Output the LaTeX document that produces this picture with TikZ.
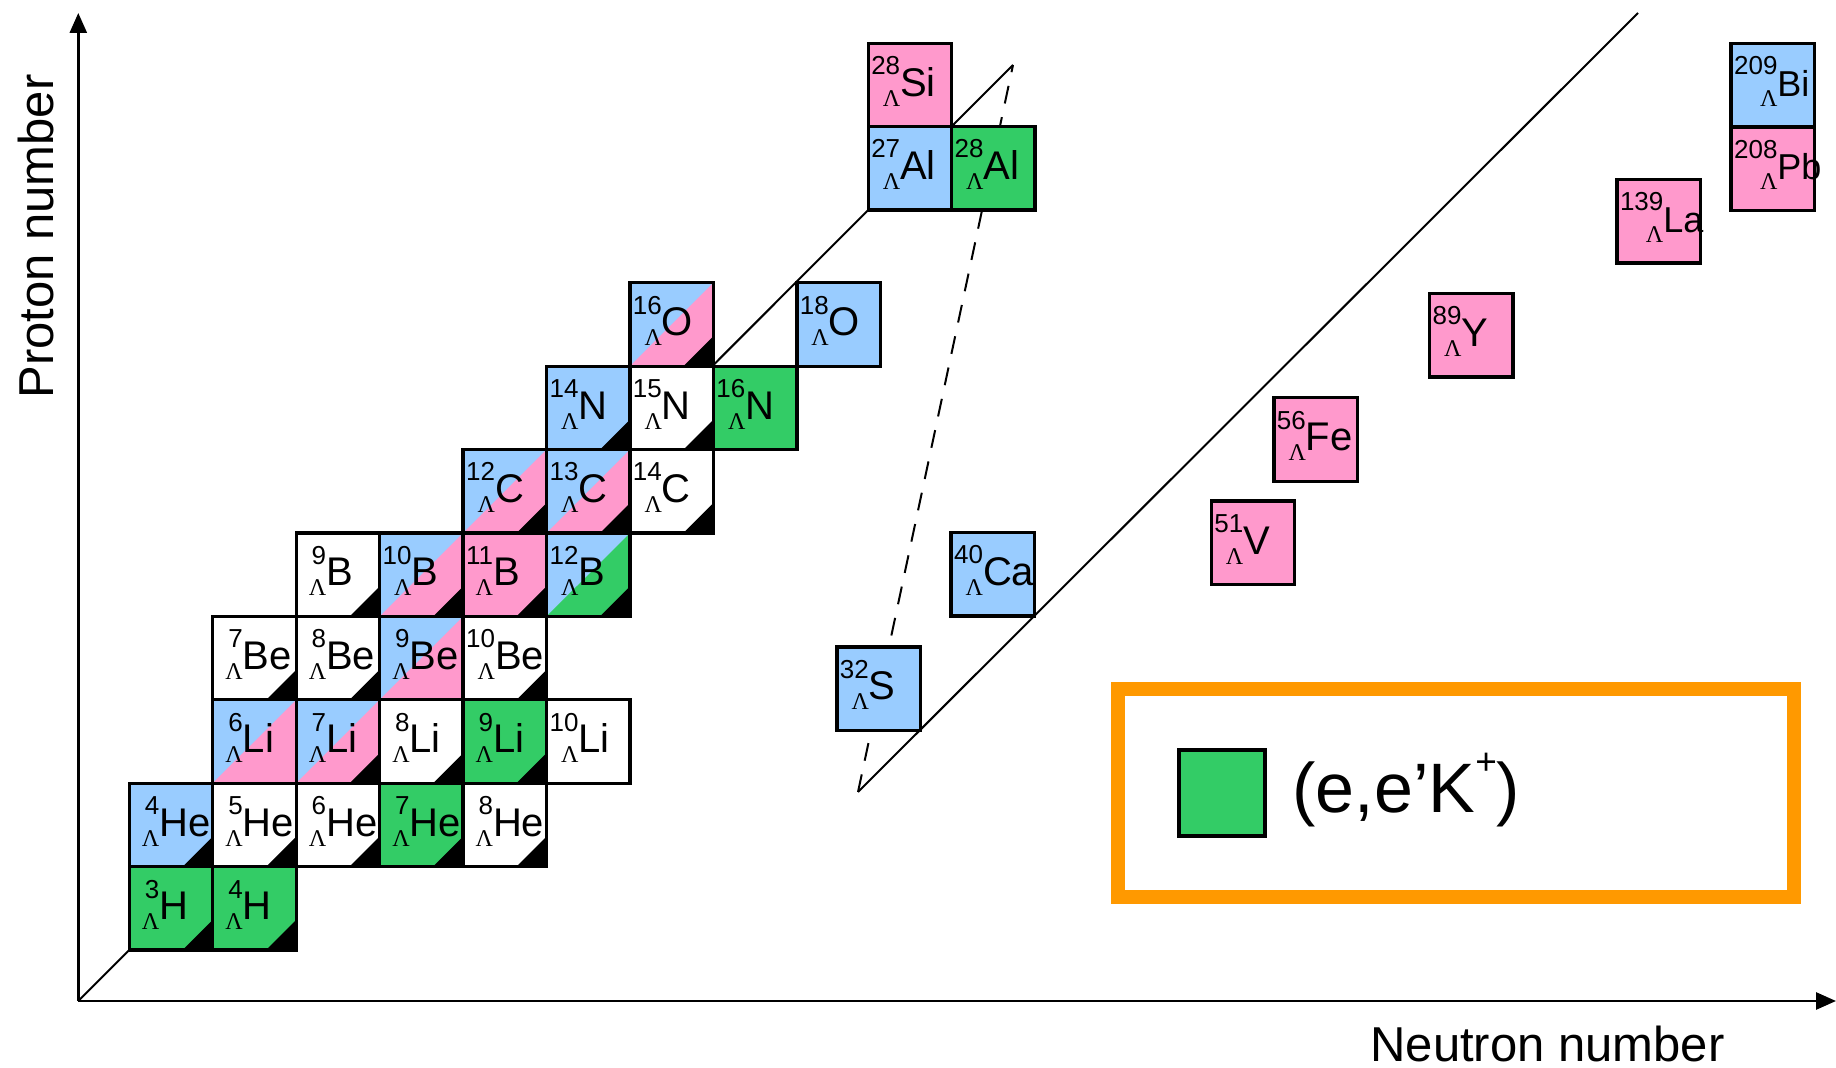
\documentclass[tikz,border=0pt]{standalone}
\usepackage{fontspec}
\setmainfont{Liberation Sans}
\newfontfamily\lamf{Liberation Serif}
\usetikzlibrary{arrows.meta}
\definecolor{hblue}{HTML}{99CCFF}
\definecolor{hpink}{HTML}{FF99CC}
\definecolor{hgreen}{HTML}{33CC66}
\definecolor{horange}{HTML}{FF9900}
\newcommand\nucbox[3]{%
  \setbox0=\hbox{\fontsize{13}{13}\selectfont #2}%
  \setbox2=\hbox{\lamf\fontsize{12}{12}\selectfont Λ}%
  \dimen0=\wd0 \advance\dimen0 by 1.5pt
  \ifdim\dimen0<15pt \dimen0=15pt \fi
  \hbox to\dimen0{\hss\raise10.8pt\box0\llap{\lower5pt\box2}}%
  {\fontsize{#1}{#1}\selectfont #3}}
\newcommand\nuc[3][20]{\makebox[0pt][l]{\kern-20.86pt\nucbox{#1}{#2}{#3}}}
\newcommand\splittri[1]{\fill[#1] (path picture bounding box.south west) -- (path picture bounding box.north east) -- (path picture bounding box.south east) -- cycle;}
\newcommand\blkcorner{\fill[black] ([xshift=-15pt]path picture bounding box.south east) -- (path picture bounding box.south east) -- ([yshift=15pt]path picture bounding box.south east) -- cycle;}
\tikzset{
  cellbox/.style={draw, line width=1.67pt, minimum width=41.72pt, minimum height=41.7pt,
    inner sep=0pt, outer sep=0pt, text height=16.3pt, text depth=5pt, fill=white},
  ck/.style={path picture={\blkcorner}},
  cbp/.style={fill=hblue, path picture={\splittri{hpink}}},
  cbpk/.style={fill=hblue, path picture={\splittri{hpink}\blkcorner}},
  cbgk/.style={fill=hblue, path picture={\splittri{hgreen}\blkcorner}},
  thinline/.style={line width=1pt},
  dashline/.style={line width=1pt, dash pattern=on 9pt off 7pt},
  axisline/.style={line width=1.35pt, -{Triangle[length=10pt,width=8.5pt]}},
  axislabel/.style={inner sep=0pt, font=\fontsize{24.5}{24.5}\selectfont},
}
\begin{document}
\begin{tikzpicture}[x=0.5pt,y=-0.5pt]
\useasboundingbox (0,0) rectangle (1836,1068);
% reference coordinates
\coordinate (O) at (78.3,1001);
\coordinate (Ytip) at (78.3,13);
\coordinate (Xtip) at (1836,1001);
\coordinate (T1) at (1013,65);
\coordinate (L) at (858,792);
\coordinate (T2) at (1638,13);
% guide lines
\draw[thinline] (O) -- (T1);
\draw[thinline] (L) -- (T2);
\draw[dashline] (L) -- (T1);
% H row
\node[cellbox, fill=hgreen, ck] (H3) at (171.0,908.3) {\nuc{3}{H}};
\node[cellbox, fill=hgreen, ck] (H4) at (254.5,908.3) {\nuc{4}{H}};
% He row
\node[cellbox, fill=hblue, ck] (He4) at (171.0,824.9) {\nuc{4}{He}};
\node[cellbox, ck] (He5) at (254.5,824.9) {\nuc{5}{He}};
\node[cellbox, ck] (He6) at (337.9,824.9) {\nuc{6}{He}};
\node[cellbox, fill=hgreen, ck] (He7) at (421.4,824.9) {\nuc{7}{He}};
\node[cellbox, ck] (He8) at (504.8,824.9) {\nuc{8}{He}};
% Li row
\node[cellbox, cbp] (Li6) at (254.5,741.5) {\nuc{6}{Li}};
\node[cellbox, cbpk] (Li7) at (337.9,741.5) {\nuc{7}{Li}};
\node[cellbox, ck] (Li8) at (421.4,741.5) {\nuc{8}{Li}};
\node[cellbox, fill=hgreen, ck] (Li9) at (504.8,741.5) {\nuc{9}{Li}};
\node[cellbox] (Li10) at (588.3,741.5) {\nuc{10}{Li}};
% Be row
\node[cellbox, ck] (Be7) at (254.5,658.1) {\nuc{7}{Be}};
\node[cellbox, ck] (Be8) at (337.9,658.1) {\nuc{8}{Be}};
\node[cellbox, cbp] (Be9) at (421.4,658.1) {\nuc{9}{Be}};
\node[cellbox, ck] (Be10) at (504.8,658.1) {\nuc{10}{Be}};
% B row
\node[cellbox, ck] (B9) at (337.9,574.7) {\nuc{9}{B}};
\node[cellbox, cbpk] (B10) at (421.4,574.7) {\nuc{10}{B}};
\node[cellbox, fill=hpink, ck] (B11) at (504.8,574.7) {\nuc{11}{B}};
\node[cellbox, cbgk] (B12) at (588.3,574.7) {\nuc{12}{B}};
% C row
\node[cellbox, cbpk] (C12) at (504.8,491.3) {\nuc{12}{C}};
\node[cellbox, cbpk] (C13) at (588.3,491.3) {\nuc{13}{C}};
\node[cellbox, ck] (C14) at (671.7,491.3) {\nuc{14}{C}};
% N row
\node[cellbox, fill=hblue, ck] (N14) at (588.3,407.9) {\nuc{14}{N}};
\node[cellbox, ck] (N15) at (671.7,407.9) {\nuc{15}{N}};
\node[cellbox, fill=hgreen] (N16) at (755.2,407.9) {\nuc{16}{N}};
% O row
\node[cellbox, cbpk] (O16) at (671.7,324.5) {\nuc{16}{O}};
\node[cellbox, fill=hblue] (O18) at (838.6,324.5) {\nuc{18}{O}};
% heavier hypernuclei
\node[cellbox, fill=hpink] (Si28) at (910,85) {\nuc{28}{Si}};
\node[cellbox, fill=hblue] (Al27) at (910,168.3) {\nuc{27}{Al}};
\node[cellbox, fill=hgreen] (Al28) at (993.3,168.3) {\nuc{28}{Al}};
\node[cellbox, fill=hblue] (S32) at (878.7,688.7) {\nuc{32}{S}};
\node[cellbox, fill=hblue] (Ca40) at (992.8,574.3) {\nuc{40}{Ca}};
\node[cellbox, fill=hpink] (V51) at (1253,542.8) {\nuc{51}{V}};
\node[cellbox, fill=hpink] (Fe56) at (1315.7,439.5) {\nuc{56}{Fe}};
\node[cellbox, fill=hpink] (Y89) at (1471.3,335.3) {\nuc{89}{Y}};
\node[cellbox, fill=hpink] (La139) at (1658.7,221.3) {\nuc[18]{139}{La}};
\node[cellbox, fill=hpink] (Pb208) at (1772.8,168.7) {\nuc[18]{208}{Pb}};
\node[cellbox, fill=hblue] (Bi209) at (1772.8,85) {\nuc[18]{209}{Bi}};
% axes
\draw[axisline] (O) -- (Ytip);
\draw[axisline] (O) -- (Xtip);
\node[axislabel, rotate=90, anchor=base] (ylab) at (53.3,236.5) {Proton number};
\node[axislabel, anchor=base] (xlab) at (1547.5,1061) {Neutron number};
% legend
\node[draw=horange, line width=7pt, minimum width=338pt, minimum height=103.75pt, inner sep=0pt] (legend) at (1456,792.75) {};
\node[draw, line width=1.67pt, fill=hgreen, minimum size=43pt, inner sep=0pt] (legsq) at (1222,792.85) {};
\node[anchor=base west, inner sep=0pt, font=\fontsize{35}{35}\selectfont] (legtxt) at (1292,812.7) {(e,e’K\raisebox{19pt}{\fontsize{18.5}{18.5}\selectfont +})};
\end{tikzpicture}
\end{document}
